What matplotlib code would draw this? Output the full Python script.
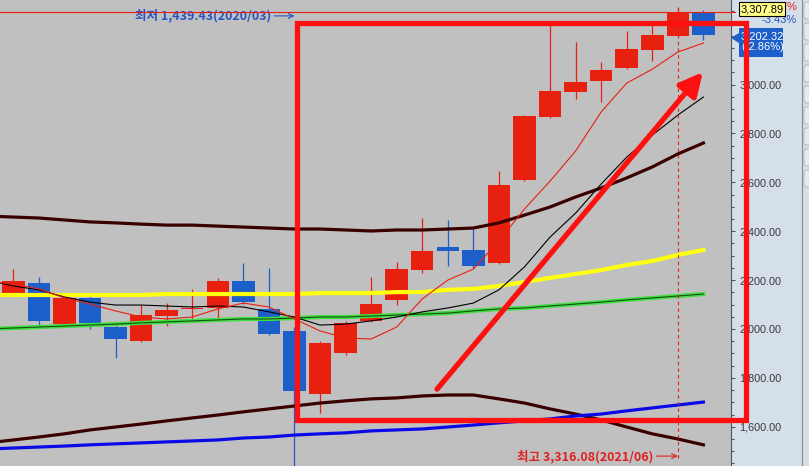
import numpy as np
import matplotlib.pyplot as plt
from matplotlib.patches import Rectangle, FancyArrowPatch, Polygon, FancyBboxPatch

# monthly candles, 2019/04 .. 2021/07
months = ["2019/04", "2019/05", "2019/06", "2019/07", "2019/08", "2019/09", "2019/10",
          "2019/11", "2019/12", "2020/01", "2020/02", "2020/03", "2020/04", "2020/05",
          "2020/06", "2020/07", "2020/08", "2020/09", "2020/10", "2020/11", "2020/12",
          "2021/01", "2021/02", "2021/03", "2021/04", "2021/05", "2021/06", "2021/07"]
opens = [2143, 2188, 2022, 2128, 2008, 1951, 2053, 2081, 2086, 2196, 2082, 1992, 1734, 1902,
         2033, 2119, 2241, 2335, 2323, 2270, 2609, 2867, 2969, 3014, 3068, 3142, 3200, 3294]
highs = [2245, 2213, 2139, 2135, 2030, 2098, 2105, 2164, 2209, 2270, 2250, 2010, 1951, 2032,
         2213, 2274, 2454, 2446, 2409, 2646, 2875, 3260, 3174, 3092, 3219, 3248, 3316.08, 3305]
lows = [2136, 2016, 2020, 2000, 1881, 1946, 2011, 2041, 2045, 2102, 1975, 1439.43, 1656, 1894,
        2030, 2098, 2229, 2258, 2250, 2265, 2605, 2862, 2940, 2928, 3064, 3096, 3195, 3183]
closes = [2196, 2033, 2128, 2025, 1959, 2057, 2078, 2087, 2196, 2110, 1980, 1747, 1943, 2025,
          2102, 2245, 2319, 2319, 2258, 2589, 2871, 2973, 3010, 3059, 3146, 3203, 3296.68, 3202.32]

# moving averages / bands, 2019/03 .. 2021/07 (one month more than the candles)
ma_red = [2196, 2184, 2164, 2127, 2102, 2074, 2049, 2041, 2049, 2082, 2106, 2090, 2041, 1992, 1963,
          1959, 2008, 2123, 2200, 2245, 2360, 2491, 2605, 2728, 2888, 3006, 3063, 3133, 3170]
ma_black = [2200, 2176, 2160, 2131, 2110, 2098, 2098, 2094, 2090, 2094, 2090, 2070, 2049, 2016, 2020,
            2033, 2049, 2070, 2086, 2106, 2160, 2254, 2376, 2474, 2593, 2703, 2793, 2875, 2949]
bb_upper = [2462, 2458, 2454, 2446, 2438, 2434, 2429, 2425, 2425, 2421, 2417, 2413, 2409, 2409, 2405,
            2401, 2405, 2405, 2409, 2413, 2434, 2466, 2499, 2540, 2577, 2618, 2663, 2716, 2761]
bb_mid = [2139, 2139, 2139, 2139, 2139, 2139, 2139, 2143, 2143, 2143, 2143, 2143, 2143, 2147, 2147,
          2147, 2151, 2151, 2160, 2164, 2176, 2192, 2209, 2225, 2241, 2262, 2278, 2303, 2323]
bb_lower = [1534, 1546, 1558, 1571, 1587, 1599, 1611, 1624, 1636, 1648, 1661, 1673, 1685, 1697, 1706,
            1714, 1718, 1726, 1730, 1730, 1714, 1697, 1673, 1652, 1628, 1599, 1571, 1550, 1526]
ma_green = [2000, 2004, 2008, 2012, 2016, 2020, 2025, 2029, 2033, 2037, 2041, 2041, 2045, 2049, 2049,
            2053, 2057, 2061, 2065, 2074, 2082, 2086, 2094, 2102, 2110, 2119, 2127, 2135, 2143]
ma_blue = [1509, 1513, 1517, 1521, 1526, 1530, 1534, 1538, 1542, 1546, 1554, 1558, 1566, 1571, 1575,
           1583, 1587, 1591, 1599, 1607, 1616, 1624, 1632, 1644, 1652, 1665, 1677, 1689, 1701]

low_text = "최저 1,439.43(2020/03)"
high_text = "최고 3,316.08(2021/06)"
prev_close = 3296.68
cross_value = "3,307.89"
last_text = "3,202.32\n(-2.86%)"

RED = "#e8200f"
BLUE = "#1c5fcb"

W, H = 809, 466
fig = plt.figure(figsize=(W / 100, H / 100), dpi=100)
fig.patch.set_facecolor("#d5dfe9")
ax = fig.add_axes([0, 0, 731 / W, 1])
ax.set_facecolor("#c0c0c0")

x = np.arange(len(months))
xl = np.arange(-1, len(months))
ax.set_xlim(-0.52, 28.08)
ax.set_ylim(1439.43, 3346)

# candles
o = np.array(opens); c = np.array(closes)
cols = [RED if cc >= oo else BLUE for oo, cc in zip(o, c)]
ax.vlines(x, lows, highs, colors=cols, lw=0.9, zorder=2)
body = np.maximum(np.abs(c - o), 4)
ax.bar(x, body, bottom=np.minimum(o, c), width=0.88, color=cols, zorder=3)

# lines
ax.plot(xl, bb_upper, color="#3a0000", lw=2.3, zorder=4)
ax.plot(xl, bb_lower, color="#3a0000", lw=2.3, zorder=4)
ax.plot(xl, ma_blue, color="#0a0ae6", lw=2.3, zorder=4)
ax.plot(xl, ma_green, color="#3ee03e", lw=3.0, zorder=4)
ax.plot(xl, ma_green, color="#1a4a1a", lw=0.8, zorder=4)
ax.plot(xl, bb_mid, color="#ffff10", lw=3.0, zorder=4)
ax.plot(xl, ma_black, color="black", lw=0.8, zorder=5)
ax.plot(xl, ma_red, color=RED, lw=0.8, zorder=5)

# previous close line + high marker
ax.axhline(prev_close, xmax=1.006, color=RED, lw=0.8, clip_on=False, zorder=5)
ax.plot([26, 26], [3314, 1472], color=RED, lw=0.8, ls=(0, (3, 3)), zorder=5)

ax.annotate(low_text, xy=(11, 3281), xytext=(-23, 0), textcoords="offset pixels",
            ha="right", va="center", color="#2454c4", fontsize=9, fontweight="bold",
            family=["Noto Sans CJK KR", "DejaVu Sans"],
            arrowprops=dict(arrowstyle="->", color="#2454c4", lw=0.8, shrinkA=0, shrinkB=0))
ax.annotate(high_text, xy=(26, 1480), xytext=(-24, 0), textcoords="offset pixels",
            ha="right", va="center", color="#e02020", fontsize=9, fontweight="bold",
            family=["Noto Sans CJK KR", "DejaVu Sans"],
            arrowprops=dict(arrowstyle="->", color="#e02020", lw=0.8, shrinkA=0, shrinkB=0))

# right price axis
ax.yaxis.tick_right()
ax.set_yticks(np.arange(1600, 3001, 200))
ax.set_yticks(np.arange(1450, 3301, 50), minor=True)
ax.set_yticklabels([f"{v:,.2f}" for v in np.arange(1600, 3001, 200)],
                   fontsize=7.8, color="#3a3a3a", family="Liberation Sans")
ax.tick_params(axis="y", which="major", length=3, width=0.8, color="#555555", pad=3)
ax.tick_params(axis="y", which="minor", length=2, width=0.8, color="#555555")
ax.set_xticks([])
for s in ["top", "left", "bottom"]:
    ax.spines[s].set_visible(False)
ax.spines["right"].set_color("#555555")
ax.spines["right"].set_linewidth(0.8)

# right panel separator and small tabs
px = lambda X, Y: (X / W, 1 - Y / H)
fig.add_artist(plt.Line2D([802 / W, 802 / W], [0, 1], color="#8a8a8a", lw=0.8))
for y0 in [0, 21, 42, 63, 84, 105, 126, 147, 168]:
    fig.add_artist(FancyBboxPatch(px(804, y0 + 19), 8 / W, 17 / H,
                                  boxstyle="round,pad=0,rounding_size=0.004",
                                  fc="#e4eaf0", ec="#a8a8a8", lw=0.5))

# top-right value boxes
fig.text(797 / W, 1 - 7 / H, "+0.37%", ha="right", va="center", color=RED, fontsize=8,
         family="Liberation Sans")
fig.text(797 / W, 1 - 20 / H, "-3.43%", ha="right", va="center", color="#2454c4", fontsize=8,
         family="Liberation Sans")
fig.text(762 / W, 1 - 9 / H, cross_value, ha="center", va="center", color="black", fontsize=8,
         family="Liberation Sans",
         bbox=dict(boxstyle="square,pad=0.15", fc="#ffff88", ec="black", lw=0.8))
fig.add_artist(Rectangle(px(739, 57), 44 / W, 29 / H, fc=BLUE, ec="none"))
fig.add_artist(Polygon([px(731, 38), px(739, 33), px(739, 43)], closed=True, fc=BLUE, ec="none"))
fig.text(741 / W, 1 - 42 / H, last_text, ha="left", va="center", color="white", fontsize=8,
         family="Liberation Sans", linespacing=1.1)

# highlight box and arrow
box = Rectangle((11.1, 1627), 17.56, 1625, transform=ax.transData, fill=False,
                ec="#ff1010", lw=3.8, zorder=20)
fig.add_artist(box)
arrow = FancyArrowPatch((16.58, 1754), (26.98, 3051), transform=ax.transData,
                        arrowstyle="-|>,head_length=14,head_width=7", mutation_scale=1,
                        color="#ff1010", lw=3.8, capstyle="round", shrinkA=0, shrinkB=0,
                        zorder=20)
fig.add_artist(arrow)

fig.savefig("out.png", dpi=100, facecolor=fig.get_facecolor())
